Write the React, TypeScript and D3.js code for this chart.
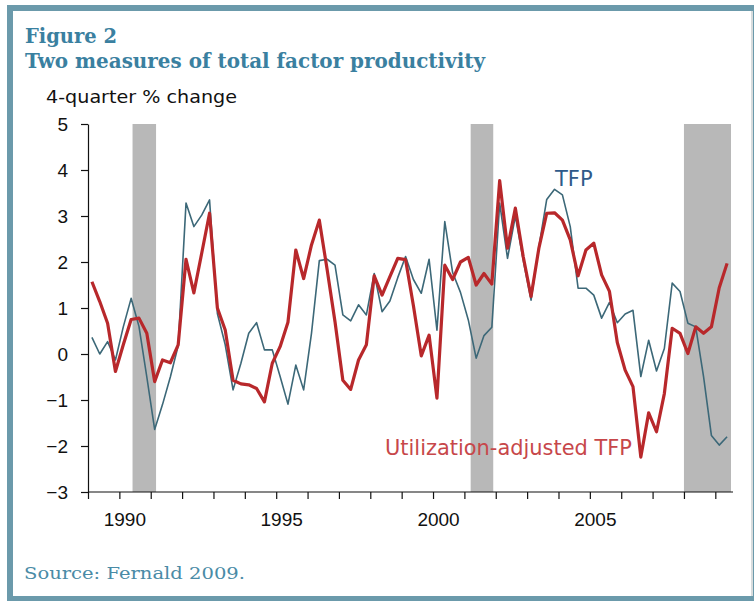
import React, { useEffect, useRef } from 'react';
import * as d3 from 'd3';

// quarterly, 1989Q1 .. 2009Q2
const firstYear = 1989;

const tfp = [
  0.36, 0.0, 0.27, -0.13, 0.59, 1.21, 0.6, -0.5, -1.64, -1.1, -0.5, 0.18,
  3.28, 2.77, 3.02, 3.35, 0.88, 0.2, -0.78, -0.2, 0.45, 0.68, 0.09, 0.09,
  -0.49, -1.09, -0.24, -0.78, 0.45, 2.03, 2.06, 1.93, 0.85, 0.72, 1.07, 0.85,
  1.75, 0.92, 1.15, 1.66, 2.12, 1.62, 1.32, 2.06, 0.52, 2.88, 1.77, 1.34,
  0.74, -0.09, 0.4, 0.58, 3.28, 2.08, 3.0, 2.04, 1.17, 2.33, 3.36, 3.58,
  3.46, 2.77, 1.43, 1.43, 1.28, 0.78, 1.12, 0.68, 0.87, 0.95, -0.49, 0.3,
  -0.37, 0.12, 1.54, 1.36, 0.67, 0.59, -0.49, -1.77, -1.98, -1.8,
];

const utilAdjTfp = [
  1.57, 1.14, 0.67, -0.38, 0.2, 0.75, 0.78, 0.45, -0.6, -0.13, -0.19, 0.2,
  2.06, 1.33, 2.19, 3.06, 1.0, 0.52, -0.57, -0.65, -0.67, -0.75, -1.04, -0.2,
  0.16, 0.69, 2.26, 1.64, 2.37, 2.91, 1.83, 0.7, -0.57, -0.77, -0.13, 0.2,
  1.7, 1.28, 1.68, 2.08, 2.05, 1.05, -0.04, 0.41, -0.96, 1.93, 1.62, 2.0,
  2.1, 1.5, 1.75, 1.52, 3.77, 2.3, 3.17, 2.12, 1.25, 2.3, 3.06, 3.07,
  2.91, 2.48, 1.7, 2.26, 2.41, 1.72, 1.36, 0.25, -0.35, -0.71, -2.24, -1.28,
  -1.69, -0.86, 0.56, 0.45, 0.01, 0.59, 0.45, 0.59, 1.44, 1.97,
];

const recessions: [number, number][] = [
  [1990.42, 1991.17],
  [2001.2, 2001.92],
  [2008.0, 2009.5],
];

const yTicks = [-3, -2, -1, 0, 1, 2, 3, 4, 5];
const yearTicks = d3.range(1989, 2010);
const yearLabels = [1990, 1995, 2000, 2005];

const W = 754;
const H = 601;
const teal = '#6b9aab';
const titleColor = '#3a80a0';

export default function App() {
  const svgRef = useRef<SVGSVGElement>(null);

  useEffect(() => {
    if (!svgRef.current) return;
    const svg = d3.select(svgRef.current);
    svg.selectAll('*').remove();

    // frame
    svg.append('rect').attr('x', 7).attr('y', 5).attr('width', W - 7).attr('height', H - 5).attr('fill', teal);
    svg.append('rect').attr('x', 13).attr('y', 11).attr('width', 738).attr('height', 585).attr('fill', '#fff');
    svg.append('rect').attr('x', 751).attr('y', 11).attr('width', 2).attr('height', 585).attr('fill', '#d8dcdd');

    // titles
    svg.append('text').attr('x', 25).attr('y', 43)
      .attr('font-family', '"DejaVu Serif", serif').attr('font-weight', 'bold').attr('font-size', 20)
      .attr('fill', titleColor).attr('textLength', 92).attr('lengthAdjust', 'spacingAndGlyphs')
      .text('Figure 2');
    svg.append('text').attr('x', 25).attr('y', 68)
      .attr('font-family', '"DejaVu Serif", serif').attr('font-weight', 'bold').attr('font-size', 20)
      .attr('fill', titleColor).attr('textLength', 460).attr('lengthAdjust', 'spacingAndGlyphs')
      .text('Two measures of total factor productivity');
    svg.append('text').attr('x', 46).attr('y', 103)
      .attr('font-family', '"DejaVu Sans", sans-serif').attr('font-size', 17)
      .attr('fill', '#111').attr('textLength', 191).attr('lengthAdjust', 'spacingAndGlyphs')
      .text('4-quarter % change');
    svg.append('text').attr('x', 24).attr('y', 579)
      .attr('font-family', '"DejaVu Serif", serif').attr('font-size', 17)
      .attr('fill', '#4a8ba6').attr('textLength', 221).attr('lengthAdjust', 'spacingAndGlyphs')
      .text('Source: Fernald 2009.');

    const x = d3.scaleLinear().domain([1989, 2009.5]).range([88, 731]);
    const y = d3.scaleLinear().domain([-3, 5]).range([492, 124]);

    // recession bands
    svg.append('g').selectAll('rect')
      .data(recessions)
      .join('rect')
      .attr('x', d => x(d[0]))
      .attr('y', y(5))
      .attr('width', d => x(d[1]) - x(d[0]))
      .attr('height', y(-3) - y(5))
      .attr('fill', '#b8b8b8');

    const date = (_: number, i: number) => firstYear + (i + 0.5) / 4;
    const line = d3.line<number>()
      .x((d, i) => x(date(d, i)))
      .y(d => y(d));

    svg.append('path').datum(tfp)
      .attr('d', line)
      .attr('fill', 'none')
      .attr('stroke', '#3c6878')
      .attr('stroke-width', 1.6)
      .attr('stroke-linejoin', 'round');

    svg.append('path').datum(utilAdjTfp)
      .attr('d', line)
      .attr('fill', 'none')
      .attr('stroke', '#b8282b')
      .attr('stroke-width', 3.2)
      .attr('stroke-linejoin', 'round');

    // axes
    const yAxis = svg.append('g')
      .attr('transform', `translate(88,0)`)
      .call(d3.axisLeft(y).tickValues(yTicks).tickSize(7).tickSizeOuter(0).tickPadding(13));
    const xAxis = svg.append('g')
      .attr('transform', `translate(0,492)`)
      .call(
        d3.axisBottom(x)
          .tickValues(yearTicks)
          .tickSize(7)
          .tickSizeOuter(0)
          .tickPadding(14)
          .tickFormat(d => (yearLabels.includes(+d) ? String(d) : ''))
      );
    xAxis.select('.domain').attr('d', 'M88,0H733');
    [xAxis, yAxis].forEach(g => {
      g.selectAll('path, line').attr('stroke', '#111').attr('stroke-width', 1.2);
      g.selectAll('text')
        .attr('font-family', '"Liberation Sans", Arial, sans-serif')
        .attr('font-size', 19)
        .attr('fill', '#111');
    });
    xAxis.selectAll('text').attr('dx', 5);

    // series labels
    svg.append('text').attr('x', 555).attr('y', 186)
      .attr('font-family', '"DejaVu Sans", sans-serif').attr('font-size', 21)
      .attr('fill', '#2f5a8a').text('TFP');
    svg.append('text').attr('x', 385).attr('y', 455)
      .attr('font-family', '"DejaVu Sans", sans-serif').attr('font-size', 21)
      .attr('fill', '#c7474a').attr('textLength', 247).attr('lengthAdjust', 'spacingAndGlyphs')
      .text('Utilization-adjusted TFP');
  }, []);

  return (
    <svg
      ref={svgRef}
      width={W}
      height={H}
      style={{ position: 'absolute', left: 0, top: 0, background: '#fff' }}
    />
  );
}
